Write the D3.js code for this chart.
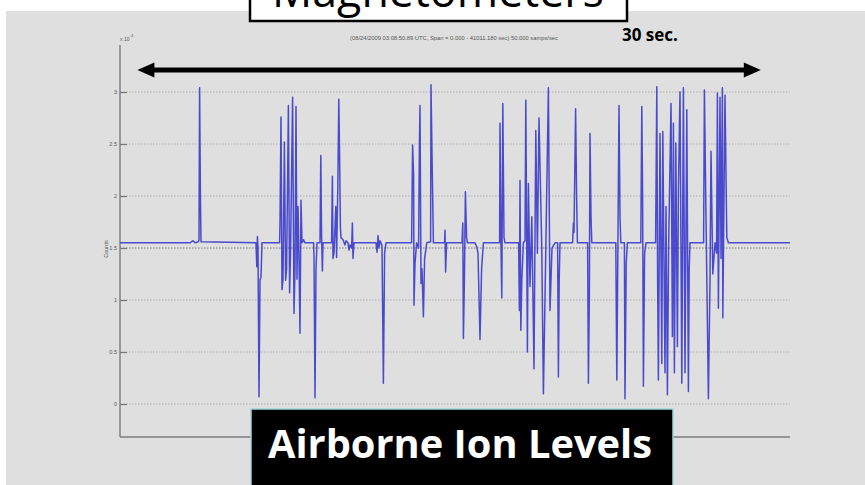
<!DOCTYPE html>
<html><head><meta charset="utf-8">
<script src="https://cdn.jsdelivr.net/npm/d3@7"></script>
<style>body{margin:0;background:#fff;overflow:hidden}svg{display:block}</style>
</head><body>
<svg id="c" width="865" height="485"></svg>
<script>
// y ticks (counts x 10^4)
const yTicks = [0, 0.5, 1, 1.5, 2, 2.5, 3];
const yTickLabels = ["0", "0.5", "1", "1.5", "2", "2.5", "3"];
const headerText = "(08/24/2009 03:08:50.89 UTC, Span =  0.000 - 41011.180 sec)  50.000 samps/sec";
const topTitle = "Magnetometers";
const bottomTitle = "Airborne Ion Levels";
const spanLabel = "30 sec.";
const yLabel = "Counts";
// [time (s), counts x 10^4]
const samples = [
[0,1.55],[3.5,1.55],[3.65,1.57],[3.75,1.55],[3.92,1.56],[3.95,1.58],[3.98,3.04],[4.02,2.0],[4.05,1.56],
[6.8,1.55],[6.84,1.32],[6.87,1.61],[6.9,1.5],[6.95,0.07],[7.0,1.19],[7.05,1.22],[7.1,1.55],
[7.98,1.55],[8.0,1.74],[8.05,2.76],[8.1,1.10],[8.15,1.20],[8.22,2.52],[8.28,1.19],[8.33,1.30],[8.42,2.87],[8.48,1.07],[8.53,1.5],[8.63,2.95],[8.7,0.87],[8.75,1.3],[8.8,2.86],[8.85,1.2],[8.9,1.9],[8.95,1.4],[9.0,0.68],[9.05,1.96],[9.1,1.55],[9.17,1.58],[9.25,1.55],
[9.68,1.55],[9.7,1.42],[9.75,0.06],[9.8,1.3],[9.85,1.55],[10.0,1.55],[10.04,2.39],[10.08,1.6],[10.12,1.28],[10.15,1.55],
[10.58,1.55],[10.62,2.19],[10.65,1.40],[10.7,1.45],[10.79,1.90],[10.83,1.41],[10.89,2.07],[10.94,2.93],[10.98,2.38],[11.02,1.70],[11.05,1.60],[11.15,1.58],[11.25,1.53],[11.3,1.57],[11.4,1.55],[11.45,1.48],[11.5,1.53],[11.58,1.50],[11.62,1.74],[11.65,1.40],[11.7,1.55],
[12.8,1.55],[12.85,1.46],[12.9,1.62],[12.95,1.5],[13.0,1.57],[13.05,1.55],[13.1,1.52],[13.17,0.20],[13.23,1.45],[13.3,1.55],
[14.58,1.55],[14.63,2.49],[14.68,2.2],[14.7,0.95],[14.75,1.35],[14.83,1.55],[14.93,1.5],[14.97,2.47],[15.0,2.87],[15.05,1.16],[15.1,1.3],[15.17,0.84],[15.23,1.4],[15.34,1.55],[15.53,1.56],[15.55,3.07],[15.6,2.4],[15.67,1.55],
[16.23,1.55],[16.25,1.67],[16.28,1.27],[16.33,1.55],
[17.1,1.55],[17.14,1.74],[17.17,0.63],[17.22,1.2],[17.27,2.04],[17.33,1.6],[17.37,1.55],
[17.75,1.55],[17.84,1.51],[17.9,1.45],[18.0,0.62],[18.08,1.3],[18.17,1.55],
[18.98,1.55],[19.0,2.70],[19.05,1.5],[19.09,1.02],[19.14,2.89],[19.2,1.6],[19.25,1.55],
[19.93,1.55],[19.97,0.90],[20.0,2.15],[20.04,0.71],[20.09,1.19],[20.17,1.55],[20.25,1.57],[20.29,2.92],[20.37,0.50],[20.42,2.12],[20.5,1.13],[20.59,1.80],[20.7,0.34],[20.79,2.63],[20.87,1.45],[20.95,2.75],[21.09,1.48],[21.17,0.10],[21.3,1.6],[21.42,3.04],[21.5,0.90],[21.6,1.5],[21.75,1.55],
[21.88,1.55],[21.92,0.26],[21.96,1.2],[22.0,1.55],
[22.63,1.55],[22.67,1.74],[22.7,1.65],[22.78,2.84],[22.83,2.0],[22.87,1.55],
[23.38,1.55],[23.42,0.20],[23.47,1.1],[23.5,2.60],[23.55,1.8],[23.59,1.55],
[24.79,1.55],[24.84,0.23],[24.89,1.4],[24.95,2.87],[25.0,1.8],[25.04,1.55],[25.22,1.55],[25.25,0.05],[25.31,1.35],[25.37,1.55],
[26.04,1.55],[26.09,2.86],[26.13,2.0],[26.17,0.17],[26.23,1.45],[26.3,1.55],
[26.78,1.55],[26.84,3.05],[26.88,1.2],[26.92,0.23],[27.0,2.60],[27.09,0.39],[27.14,2.62],[27.25,0.30],[27.3,1.9],[27.37,0.09],[27.43,1.5],[27.55,2.89],[27.62,0.65],[27.67,2.70],[27.72,0.30],[27.79,2.51],[27.87,0.55],[27.92,2.05],[28.0,3.00],[28.09,0.20],[28.17,3.04],[28.25,0.30],[28.34,2.83],[28.42,0.12],[28.46,1.3],[28.5,1.55],
[29.18,1.55],[29.22,3.02],[29.3,1.8],[29.42,0.05],[29.5,1.19],[29.55,2.43],[29.64,1.25],[29.75,1.55],[29.83,1.45],[29.87,2.99],[29.92,0.92],[30.0,2.95],[30.05,1.40],[30.12,3.04],[30.14,0.83],[30.25,2.97],[30.34,1.6],[30.42,1.55],
[33.5,1.55]
];
const arrowSpan = [0.87, 32.04]; // seconds, annotation "30 sec."

const svg = d3.select("#c");
const W = 865, H = 485;
const plot = {left: 120, right: 790, top: 45, bottom: 437};

// background
svg.append("rect").attr("x", 0).attr("y", 0).attr("width", W).attr("height", H).attr("fill", "#ffffff");
svg.append("rect").attr("x", 6).attr("y", 11).attr("width", W - 6).attr("height", H - 11).attr("fill", "#dfdfdf");

const x = d3.scaleLinear().domain([0, 33.5]).range([plot.left, plot.right]);
const y = d3.scaleLinear().domain([-0.317, 3.452]).range([plot.bottom, plot.top]);

// grid
const g = svg.append("g");
g.selectAll("line.grid").data(yTicks).join("line")
  .attr("class", "grid")
  .attr("x1", plot.left).attr("x2", plot.right)
  .attr("y1", d => y(d)).attr("y2", d => y(d))
  .attr("stroke", d => d === 1.5 ? "#7a7a7a" : "#b0b0b0")
  .attr("stroke-width", 1)
  .attr("stroke-dasharray", "1.5,1.5");

// y axis
const yAxis = d3.axisLeft(y).tickValues(yTicks).tickFormat((d, i) => yTickLabels[i]).tickSize(-7).tickPadding(3);
const ya = svg.append("g").attr("transform", `translate(${plot.left},0)`).call(yAxis);
ya.select(".domain").remove();
ya.selectAll(".tick line").attr("stroke", "#777").attr("stroke-width", 1.2);
ya.selectAll(".tick text").attr("font-family", "Liberation Sans, Arial, sans-serif").attr("font-size", 5.5).attr("fill", "#555");

// axis lines
svg.append("line").attr("x1", plot.left).attr("x2", plot.left).attr("y1", plot.top).attr("y2", plot.bottom)
  .attr("stroke", "#7c7c7c").attr("stroke-width", 1.4);
svg.append("line").attr("x1", plot.left).attr("x2", plot.right).attr("y1", plot.bottom).attr("y2", plot.bottom)
  .attr("stroke", "#7c7c7c").attr("stroke-width", 1.4);

// data line
const line = d3.line().x(d => x(d[0])).y(d => y(d[1]));
svg.append("path").datum(samples)
  .attr("d", line)
  .attr("fill", "none")
  .attr("stroke", "#3a3acc")
  .attr("stroke-opacity", 0.9)
  .attr("stroke-width", 1.5)
  .attr("stroke-linejoin", "round");

// small texts
svg.append("text").attr("x", 120).attr("y", 41).attr("font-family", "Liberation Sans, Arial, sans-serif")
  .attr("font-size", 5).attr("fill", "#555").text("x 10");
svg.append("text").attr("x", 131).attr("y", 37).attr("font-family", "Liberation Sans, Arial, sans-serif")
  .attr("font-size", 4).attr("fill", "#555").text("4");
svg.append("text").attr("x", 454).attr("y", 40).attr("text-anchor", "middle")
  .attr("font-family", "Liberation Sans, Arial, sans-serif").attr("font-size", 5).attr("fill", "#555")
  .attr("textLength", 208).attr("lengthAdjust", "spacingAndGlyphs").text(headerText);
svg.append("text").attr("transform", "translate(108,249) rotate(-90)").attr("text-anchor", "middle")
  .attr("font-family", "Liberation Sans, Arial, sans-serif").attr("font-size", 5.5).attr("fill", "#555").text(yLabel);

// arrow
const ay = 70;
const ax1 = x(arrowSpan[0]), ax2 = x(arrowSpan[1]);
svg.append("line").attr("x1", ax1 + 12).attr("x2", ax2 - 12).attr("y1", ay).attr("y2", ay)
  .attr("stroke", "#000").attr("stroke-width", 5);
svg.append("path").attr("d", `M${ax1},${ay} L${ax1 + 17},${ay - 7.5} L${ax1 + 17},${ay + 7.5} Z`).attr("fill", "#000");
svg.append("path").attr("d", `M${ax2},${ay} L${ax2 - 17},${ay - 7.5} L${ax2 - 17},${ay + 7.5} Z`).attr("fill", "#000");

svg.append("text").attr("x", 622).attr("y", 41).attr("font-family", "Open Sans, sans-serif")
  .attr("font-weight", "bold").attr("font-size", 17).attr("fill", "#000").text(spanLabel);

function fit(sel, target) {
  const w = sel.node().getComputedTextLength();
  const fs = parseFloat(sel.attr("font-size"));
  sel.attr("font-size", fs * target / w);
}

// top title box (cut off at the top edge, as in the reference)
svg.append("rect").attr("x", 250).attr("y", -10).attr("width", 377).attr("height", 31)
  .attr("fill", "#fff").attr("stroke", "#000").attr("stroke-width", 2.5);
const tt = svg.append("text").attr("x", 438).attr("y", 7).attr("text-anchor", "middle")
  .attr("font-family", "Open Sans, sans-serif").attr("font-size", 40).attr("fill", "#000").text(topTitle);
fit(tt, 332);

// bottom title box
svg.append("rect").attr("x", 251).attr("y", 409).attr("width", 422).attr("height", 80)
  .attr("fill", "#000").attr("stroke", "#9fd6d6").attr("stroke-width", 1.5);
const bt = svg.append("text").attr("x", 460).attr("y", 458).attr("text-anchor", "middle")
  .attr("font-family", "Open Sans, sans-serif").attr("font-weight", "bold").attr("font-size", 36)
  .attr("fill", "#fff").text(bottomTitle);
fit(bt, 384);
</script>
</body></html>
